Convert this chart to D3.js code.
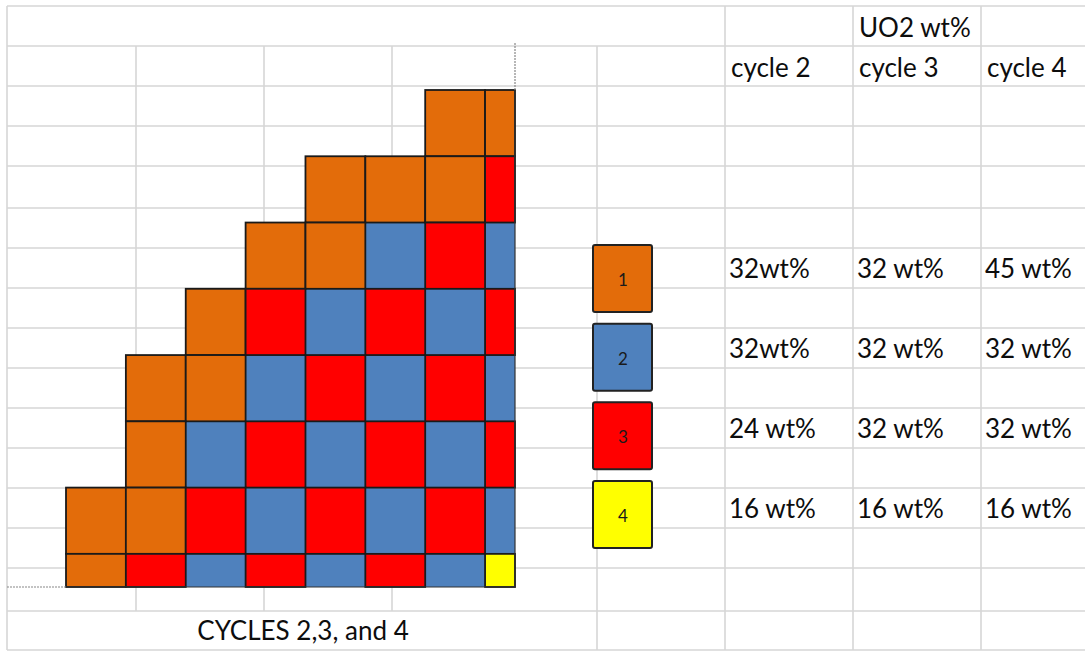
<!DOCTYPE html>
<html>
<head>
<meta charset="utf-8">
<script src="https://cdn.jsdelivr.net/npm/d3@7"></script>
<style>
  body { margin: 0; background: #fff; }
  svg { display: block; }
</style>
</head>
<body>
<svg width="1085" height="651"></svg>
<script>
// fuel assembly map, one code per cell (0 = empty), top row first
var row0 = [0,0,0,0,0,0,1,1]
var row1 = [0,0,0,0,1,1,1,3]
var row2 = [0,0,0,1,1,2,3,2]
var row3 = [0,0,1,3,2,3,2,3]
var row4 = [0,1,1,2,3,2,3,2]
var row5 = [0,1,2,3,2,3,2,3]
var row6 = [1,1,3,2,3,2,3,2]
var row7 = [1,3,2,3,2,3,2,4]
var assembly = [row0,row1,row2,row3,row4,row5,row6,row7]

// legend codes and table
var codes = [1,2,3,4]
var cycles = ["cycle 2","cycle 3","cycle 4"]
var cycle2 = ["32wt%","32wt%","24 wt%","16 wt%"]
var cycle3 = ["32 wt%","32 wt%","32 wt%","16 wt%"]
var cycle4 = ["45 wt%","32 wt%","32 wt%","16 wt%"]
var tableTitle = "UO2 wt%"
var mapTitle = "CYCLES 2,3, and 4"

var colors = {1:"#E36C0A", 2:"#4F81BD", 3:"#FF0000", 4:"#FFFF00"}
var font = "Lato, 'Open Sans', sans-serif"

var svg = d3.select("svg")

// spreadsheet grid in the background
var rowLines = [6,46,86,126,166,208,248,288,328,368,408,448,488,528,568,611,650]
var grid = svg.append("g").attr("stroke", "#d6d6d6").attr("stroke-width", 1.6)
grid.selectAll("line.h").data(rowLines).enter().append("line")
    .attr("x1", 7).attr("x2", 1085)
    .attr("y1", function(d){ return d }).attr("y2", function(d){ return d })
var colLines = [[7,6,650],[136,46,611],[264,46,611],[392,46,611],[597,46,650],[725,6,650],[853,6,650],[981,6,650]]
grid.selectAll("line.v").data(colLines).enter().append("line")
    .attr("x1", function(d){ return d[0] }).attr("x2", function(d){ return d[0] })
    .attr("y1", function(d){ return d[1] }).attr("y2", function(d){ return d[2] })

// scales for the assembly map: last column and last row are half cells
var x = d3.scaleLinear().domain([0, 7.5]).range([66, 515])
var y = d3.scaleLinear().domain([0, 7.5]).range([90, 587])

var cells = []
assembly.forEach(function(r, i){
    r.forEach(function(c, j){
        if (c > 0) cells.push({row: i, col: j, code: c})
    })
})
// blue first so the stroked cells sit on top
var order = {2:0, 1:1, 3:2, 4:3}
cells.sort(function(a, b){ return order[a.code] - order[b.code] })

svg.append("g").selectAll("rect").data(cells).enter().append("rect")
    .attr("x", function(d){ return x(d.col) })
    .attr("y", function(d){ return y(d.row) })
    .attr("width", function(d){ return x(Math.min(d.col + 1, 7.5)) - x(d.col) })
    .attr("height", function(d){ return y(Math.min(d.row + 1, 7.5)) - y(d.row) })
    .style("fill", function(d){ return colors[d.code] })
    .style("stroke", function(d){ return d.code == 2 ? "none" : "#1a1a1a" })
    .style("stroke-width", 1.8)

// map frame lines
svg.append("line")
    .attr("x1", x(7.5)).attr("x2", x(7.5)).attr("y1", y(0)).attr("y2", y(7.5))
    .style("stroke", "#333").style("stroke-width", 1.2)
svg.append("line")
    .attr("x1", x(0)).attr("x2", x(7.5)).attr("y1", y(7.5)).attr("y2", y(7.5))
    .style("stroke", "#333").style("stroke-width", 1.2)
svg.append("line")
    .attr("x1", x(7.5)).attr("x2", x(7.5)).attr("y1", 43).attr("y2", y(0))
    .style("stroke", "#888").style("stroke-width", 1.2).style("stroke-dasharray", "2,1")
svg.append("line")
    .attr("x1", 7).attr("x2", x(0)).attr("y1", y(7.5)).attr("y2", y(7.5))
    .style("stroke", "#888").style("stroke-width", 1.2).style("stroke-dasharray", "2,1")

svg.append("text")
    .attr("x", 303).attr("y", 640)
    .attr("text-anchor", "middle")
    .style("font-family", font).style("font-size", "26px").style("fill", "#0d0d0d")
    .text(mapTitle)

// legend squares
var ly = d3.scalePoint().domain(codes).range([245, 481])
var legend = svg.append("g").selectAll("g").data(codes).enter().append("g")
    .attr("transform", function(d){ return "translate(593," + ly(d) + ")" })
legend.append("rect")
    .attr("width", 59).attr("height", 67).attr("rx", 2)
    .style("fill", function(d){ return colors[d] })
    .style("stroke", "#222").style("stroke-width", 2)
legend.append("text")
    .attr("x", 30).attr("y", 41)
    .attr("text-anchor", "middle")
    .style("font-family", font).style("font-size", "17px").style("fill", "#1a1a1a")
    .text(function(d){ return d })

// table on the right
var tx = d3.scaleBand().domain(cycles).range([725, 1109])
var ty = d3.scalePoint().domain(codes).range([278, 518])
var textStyle = function(sel){
    sel.style("font-family", font).style("font-size", "26px").style("fill", "#0d0d0d")
}
svg.append("text").attr("x", tx("cycle 3") + 6).attr("y", 37).call(textStyle).text(tableTitle)
svg.append("g").selectAll("text").data(cycles).enter().append("text")
    .attr("x", function(d){ return tx(d) + 6 }).attr("y", 77)
    .call(textStyle).text(function(d){ return d })

var columns = [cycle2, cycle3, cycle4]
columns.forEach(function(vals, k){
    svg.append("g").selectAll("text").data(vals).enter().append("text")
        .attr("x", tx(cycles[k]) + 4)
        .attr("y", function(d, i){ return ty(codes[i]) })
        .call(textStyle).text(function(d){ return d })
})
</script>
</body>
</html>
